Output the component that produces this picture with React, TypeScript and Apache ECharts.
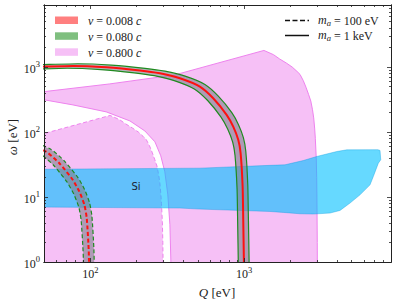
import React, { useEffect, useRef } from "react";
import * as echarts from "echarts";

const SERIF = '"Liberation Serif", "DejaVu Serif", serif';
const SANS = '"DejaVu Sans", sans-serif';

const qRange = [50, 9000];
const wRange = [1, 9000];

const xMajorTicks = [100, 1000];
const xMinorTicks = [60, 70, 80, 90, 200, 300, 400, 500, 600, 700, 800, 900, 2000, 3000, 4000, 5000, 6000, 7000, 8000];
const yMajorTicks = [1, 10, 100, 1000];
const yMinorTicks = [2, 3, 4, 5, 6, 7, 8, 9, 20, 30, 40, 50, 60, 70, 80, 90, 200, 300, 400, 500, 600, 700, 800, 900, 2000, 3000, 4000, 5000, 6000, 7000, 8000];

// m_a = 1 keV curves
const q1kRed = [40, 50, 77, 127, 210, 283, 382, 515, 629, 769, 849, 915, 948, 977, 986, 996, 998];
const w1kRed = [1000, 1015, 1040, 990, 885, 800, 672, 500, 331, 184, 121, 75.8, 47.3, 14.5, 4.47, 1.0, 0.5];
const q1kGreenHi = [43.2, 54, 83, 137, 227, 306, 413, 556, 679, 831, 917, 988, 1024, 1055, 1065, 1076, 1078];
const w1kGreenHi = [1080, 1096, 1123, 1069, 956, 864, 726, 540, 357, 199, 131, 81.9, 51.1, 15.7, 4.83, 1.08, 0.54];
const q1kGreenLo = [36.8, 46, 70.8, 117, 193, 260, 351, 474, 579, 707, 781, 842, 872, 899, 907, 916, 918];
const w1kGreenLo = [920, 934, 957, 911, 814, 736, 618, 460, 305, 169, 111, 69.7, 43.5, 13.3, 4.11, 0.92, 0.46];

// m_a = 100 eV curves
const q100Red = [28.3, 38.2, 51.5, 62.9, 76.9, 84.9, 91.5, 94.8, 97.7, 98.6, 99.6, 99.8];
const w100Red = [80, 67.2, 50, 33.1, 18.4, 12.1, 7.58, 4.73, 1.45, 0.447, 0.1, 0.05];
const q100GreenHi = [30.6, 41.3, 55.6, 67.9, 83.1, 91.7, 98.8, 102.4, 105.5, 106.5, 107.6, 107.8];
const w100GreenHi = [86.4, 72.6, 54, 35.7, 19.9, 13.1, 8.19, 5.11, 1.57, 0.483, 0.108, 0.054];
const q100GreenLo = [26, 35.1, 47.4, 57.9, 70.7, 78.1, 84.2, 87.2, 89.9, 90.7, 91.6, 91.8];
const w100GreenLo = [73.6, 61.8, 46, 30.5, 16.9, 11.1, 6.97, 4.35, 1.33, 0.411, 0.092, 0.046];

// v = 0.8c regions
const pink1kQ = [40, 50.5, 134, 354, 1344, 1550, 1700, 1880, 2050, 2200, 2306, 2420, 2520, 2620, 2710, 2780, 2830, 2870, 2900, 2940, 2960, 2970, 2985, 2990, 335, 334, 329, 319, 305, 287, 263, 226, 181, 127, 77.2, 50.5, 40];
const pink1kW = [395, 419, 550, 756, 1799, 1550, 1330, 1150, 1000, 860, 770, 620, 490, 380, 300, 220, 165, 115, 80, 40, 20, 10, 2, 0.5, 0.5, 1, 3.74, 10.8, 24.4, 43, 70.6, 104, 148, 204, 261, 312, 330];
const pink100Q = [13.4, 35.4, 134.4, 155, 170, 188, 205, 220, 230.6, 242, 252, 262, 271, 278, 283, 287, 290, 294, 296, 297, 298.5, 299, 10, 10];
const pink100W = [55, 75.6, 179.9, 155, 133, 115, 100, 86, 77, 62, 49, 38, 30, 22, 16.5, 11.5, 8, 4, 2, 1, 0.2, 0.05, 0.05, 45];

// Si region
const siQ = [45, 515, 1470, 1841, 2422, 2960, 3995, 4640, 7400, 7640, 7720, 7450, 6910, 6577, 5662, 4875, 4197, 3613, 2813, 2305, 1795, 1470, 515, 382, 45];
const siW = [26.7, 27.8, 30.7, 31.3, 36.4, 42, 50.1, 53.2, 53.5, 52, 37.3, 33.2, 20.7, 15.4, 10.8, 8.07, 6.21, 5.66, 5.47, 5.52, 5.79, 5.99, 6.52, 6.76, 7.0];
const siLabel = { q: 198, w: 14.4, text: "Si" };

const pts = (qs: number[], ws: number[]) => qs.map((q, i) => [q, ws[i]]);

function area(qs: number[], ws: number[], style: any, z: number, label?: any) {
  return {
    type: "custom",
    silent: true,
    clip: true,
    z,
    data: [[qs[0], ws[0]]],
    renderItem: (params: any, api: any) => {
      const cs = params.coordSys;
      const children: any[] = [
        { type: "polygon", shape: { points: qs.map((q, i) => api.coord([q, ws[i]])) }, style },
      ];
      if (label) {
        const p = api.coord([label.q, label.w]);
        children.push({
          type: "text",
          x: p[0],
          y: p[1],
          style: { text: label.text, fontFamily: SANS, fontSize: 10, fill: "#1c2233", align: "center", verticalAlign: "middle" },
        });
      }
      return {
        type: "group",
        clipPath: { type: "rect", shape: { x: cs.x, y: cs.y, width: cs.width, height: cs.height } },
        children,
      };
    },
  };
}

function curve(qs: number[], ws: number[], color: string, width: number, dashed: boolean, z: number) {
  return {
    type: "line",
    data: pts(qs, ws),
    showSymbol: false,
    symbol: "none",
    smooth: 0.2,
    silent: true,
    clip: true,
    z,
    lineStyle: { color, width, type: dashed ? [4, 2.5] : "solid", cap: "butt" },
  };
}

const richSup = {
  b: { fontSize: 12, fontFamily: SERIF, color: "#222", lineHeight: 15, verticalAlign: "bottom" },
  s: { fontSize: 8.5, fontFamily: SERIF, color: "#222", verticalAlign: "top" },
};
const fmt = (v: number) => `{b|10}{s|${Math.round(Math.log10(v))}}`;

function axisDef(dim: "x" | "y", position: string, values: number[], length: number, label: boolean) {
  const range = dim === "x" ? qRange : wRange;
  return {
    type: "log",
    logBase: 10,
    min: range[0],
    max: range[1],
    position,
    gridIndex: 0,
    z: 10,
    axisLine: { show: true, onZero: false, lineStyle: { color: "#222", width: 1 } },
    axisTick: { show: true, inside: true, length, customValues: values, lineStyle: { color: "#222", width: 0.8 } },
    axisLabel: label
      ? { show: true, customValues: values, margin: dim === "x" ? 3 : 4, formatter: fmt, rich: richSup }
      : { show: false },
    splitLine: { show: false },
    minorTick: { show: false },
    minorSplitLine: { show: false },
  };
}

const bandFill = { fill: "rgba(128,128,140,0.6)", stroke: "none" };
const greenC = "#1f8a1f";
const redC = "#ff1010";

const italic = (size: number) => ({ fontStyle: "italic", fontFamily: SERIF, fontSize: size, fill: "#222" });

const option: any = {
  animation: false,
  backgroundColor: "#fff",
  grid: { left: 44, top: 5, width: 347, height: 257, show: false },
  xAxis: [
    axisDef("x", "bottom", xMajorTicks, 4, true),
    axisDef("x", "bottom", xMinorTicks, 2, false),
    axisDef("x", "top", xMajorTicks, 4, false),
    axisDef("x", "top", xMinorTicks, 2, false),
  ],
  yAxis: [
    axisDef("y", "left", yMajorTicks, 4, true),
    axisDef("y", "left", yMinorTicks, 2, false),
    axisDef("y", "right", yMajorTicks, 4, false),
    axisDef("y", "right", yMinorTicks, 2, false),
  ],
  series: [
    area(pink100Q, pink100W, { fill: "rgba(238,130,238,0.5)", stroke: "#ee82ee", lineWidth: 1, lineDash: [4, 2.5] }, 1),
    area(pink1kQ, pink1kW, { fill: "rgba(238,130,238,0.5)", stroke: "#ee82ee", lineWidth: 1 }, 1),
    area(siQ, siW, { fill: "rgba(0,191,255,0.6)", stroke: "rgba(0,150,220,0.45)", lineWidth: 0.8 }, 2, siLabel),
    area([...q1kGreenHi, ...q1kGreenLo.slice().reverse()], [...w1kGreenHi, ...w1kGreenLo.slice().reverse()], bandFill, 3),
    area([...q100GreenHi, ...q100GreenLo.slice().reverse()], [...w100GreenHi, ...w100GreenLo.slice().reverse()], bandFill, 3),
    curve(q1kGreenHi, w1kGreenHi, greenC, 1.2, false, 4),
    curve(q1kGreenLo, w1kGreenLo, greenC, 1.2, false, 4),
    curve(q100GreenHi, w100GreenHi, greenC, 1.2, true, 4),
    curve(q100GreenLo, w100GreenLo, greenC, 1.2, true, 4),
    curve(q1kRed, w1kRed, redC, 2, false, 5),
    curve(q100Red, w100Red, redC, 2, true, 5),
  ],
  graphic: [
    { type: "rect", shape: { x: 55, y: 16.5, width: 23, height: 7.5 }, style: { fill: "rgba(255,0,0,0.5)" } },
    { type: "rect", shape: { x: 55, y: 32.3, width: 23, height: 7.5 }, style: { fill: "rgba(0,128,0,0.5)" } },
    { type: "rect", shape: { x: 55, y: 48.3, width: 23, height: 7.5 }, style: { fill: "rgba(238,130,238,0.5)" } },
    ...["0.008", "0.080", "0.800"].map((v, i) => ({
      type: "text",
      x: 88,
      y: 20.5 + i * 16,
      style: {
        text: `{i|v} = ${v} {i|c}`,
        rich: { i: italic(12) },
        fontFamily: SERIF,
        fontSize: 12,
        fill: "#222",
        align: "left",
        verticalAlign: "middle",
      },
    })),
    { type: "line", shape: { x1: 285, y1: 20.5, x2: 309, y2: 20.5 }, style: { stroke: "#111", lineWidth: 1.5, lineDash: [5, 2.5] } },
    { type: "line", shape: { x1: 285, y1: 35.5, x2: 309, y2: 35.5 }, style: { stroke: "#111", lineWidth: 1.5 } },
    ...["100 eV", "1 keV"].map((t, i) => ({
      type: "text",
      x: 318,
      y: 20.5 + i * 15,
      style: {
        text: `{m|m}{a|a} = ${t}`,
        rich: {
          m: { ...italic(12), lineHeight: 14, verticalAlign: "top" },
          a: { ...italic(8.5), verticalAlign: "bottom" },
        },
        fontFamily: SERIF,
        fontSize: 12,
        fill: "#222",
        align: "left",
        verticalAlign: "middle",
      },
    })),
    {
      type: "text",
      x: 217,
      y: 292,
      style: { text: "{i|Q} [eV]", rich: { i: italic(13) }, fontFamily: SERIF, fontSize: 13, fill: "#222", align: "center", verticalAlign: "middle" },
    },
    {
      type: "text",
      x: 12,
      y: 137,
      rotation: Math.PI / 2,
      style: { text: "{i|ω} [eV]", rich: { i: italic(13) }, fontFamily: SERIF, fontSize: 13, fill: "#222", align: "center", verticalAlign: "middle" },
    },
  ],
};

export default function App() {
  const ref = useRef<HTMLDivElement>(null);
  useEffect(() => {
    const chart = echarts.init(ref.current!, null, { renderer: "svg" });
    chart.setOption(option);
    return () => chart.dispose();
  }, []);
  return <div ref={ref} style={{ position: "fixed", left: 0, top: 0, width: 397, height: 303, background: "#fff" }} />;
}
